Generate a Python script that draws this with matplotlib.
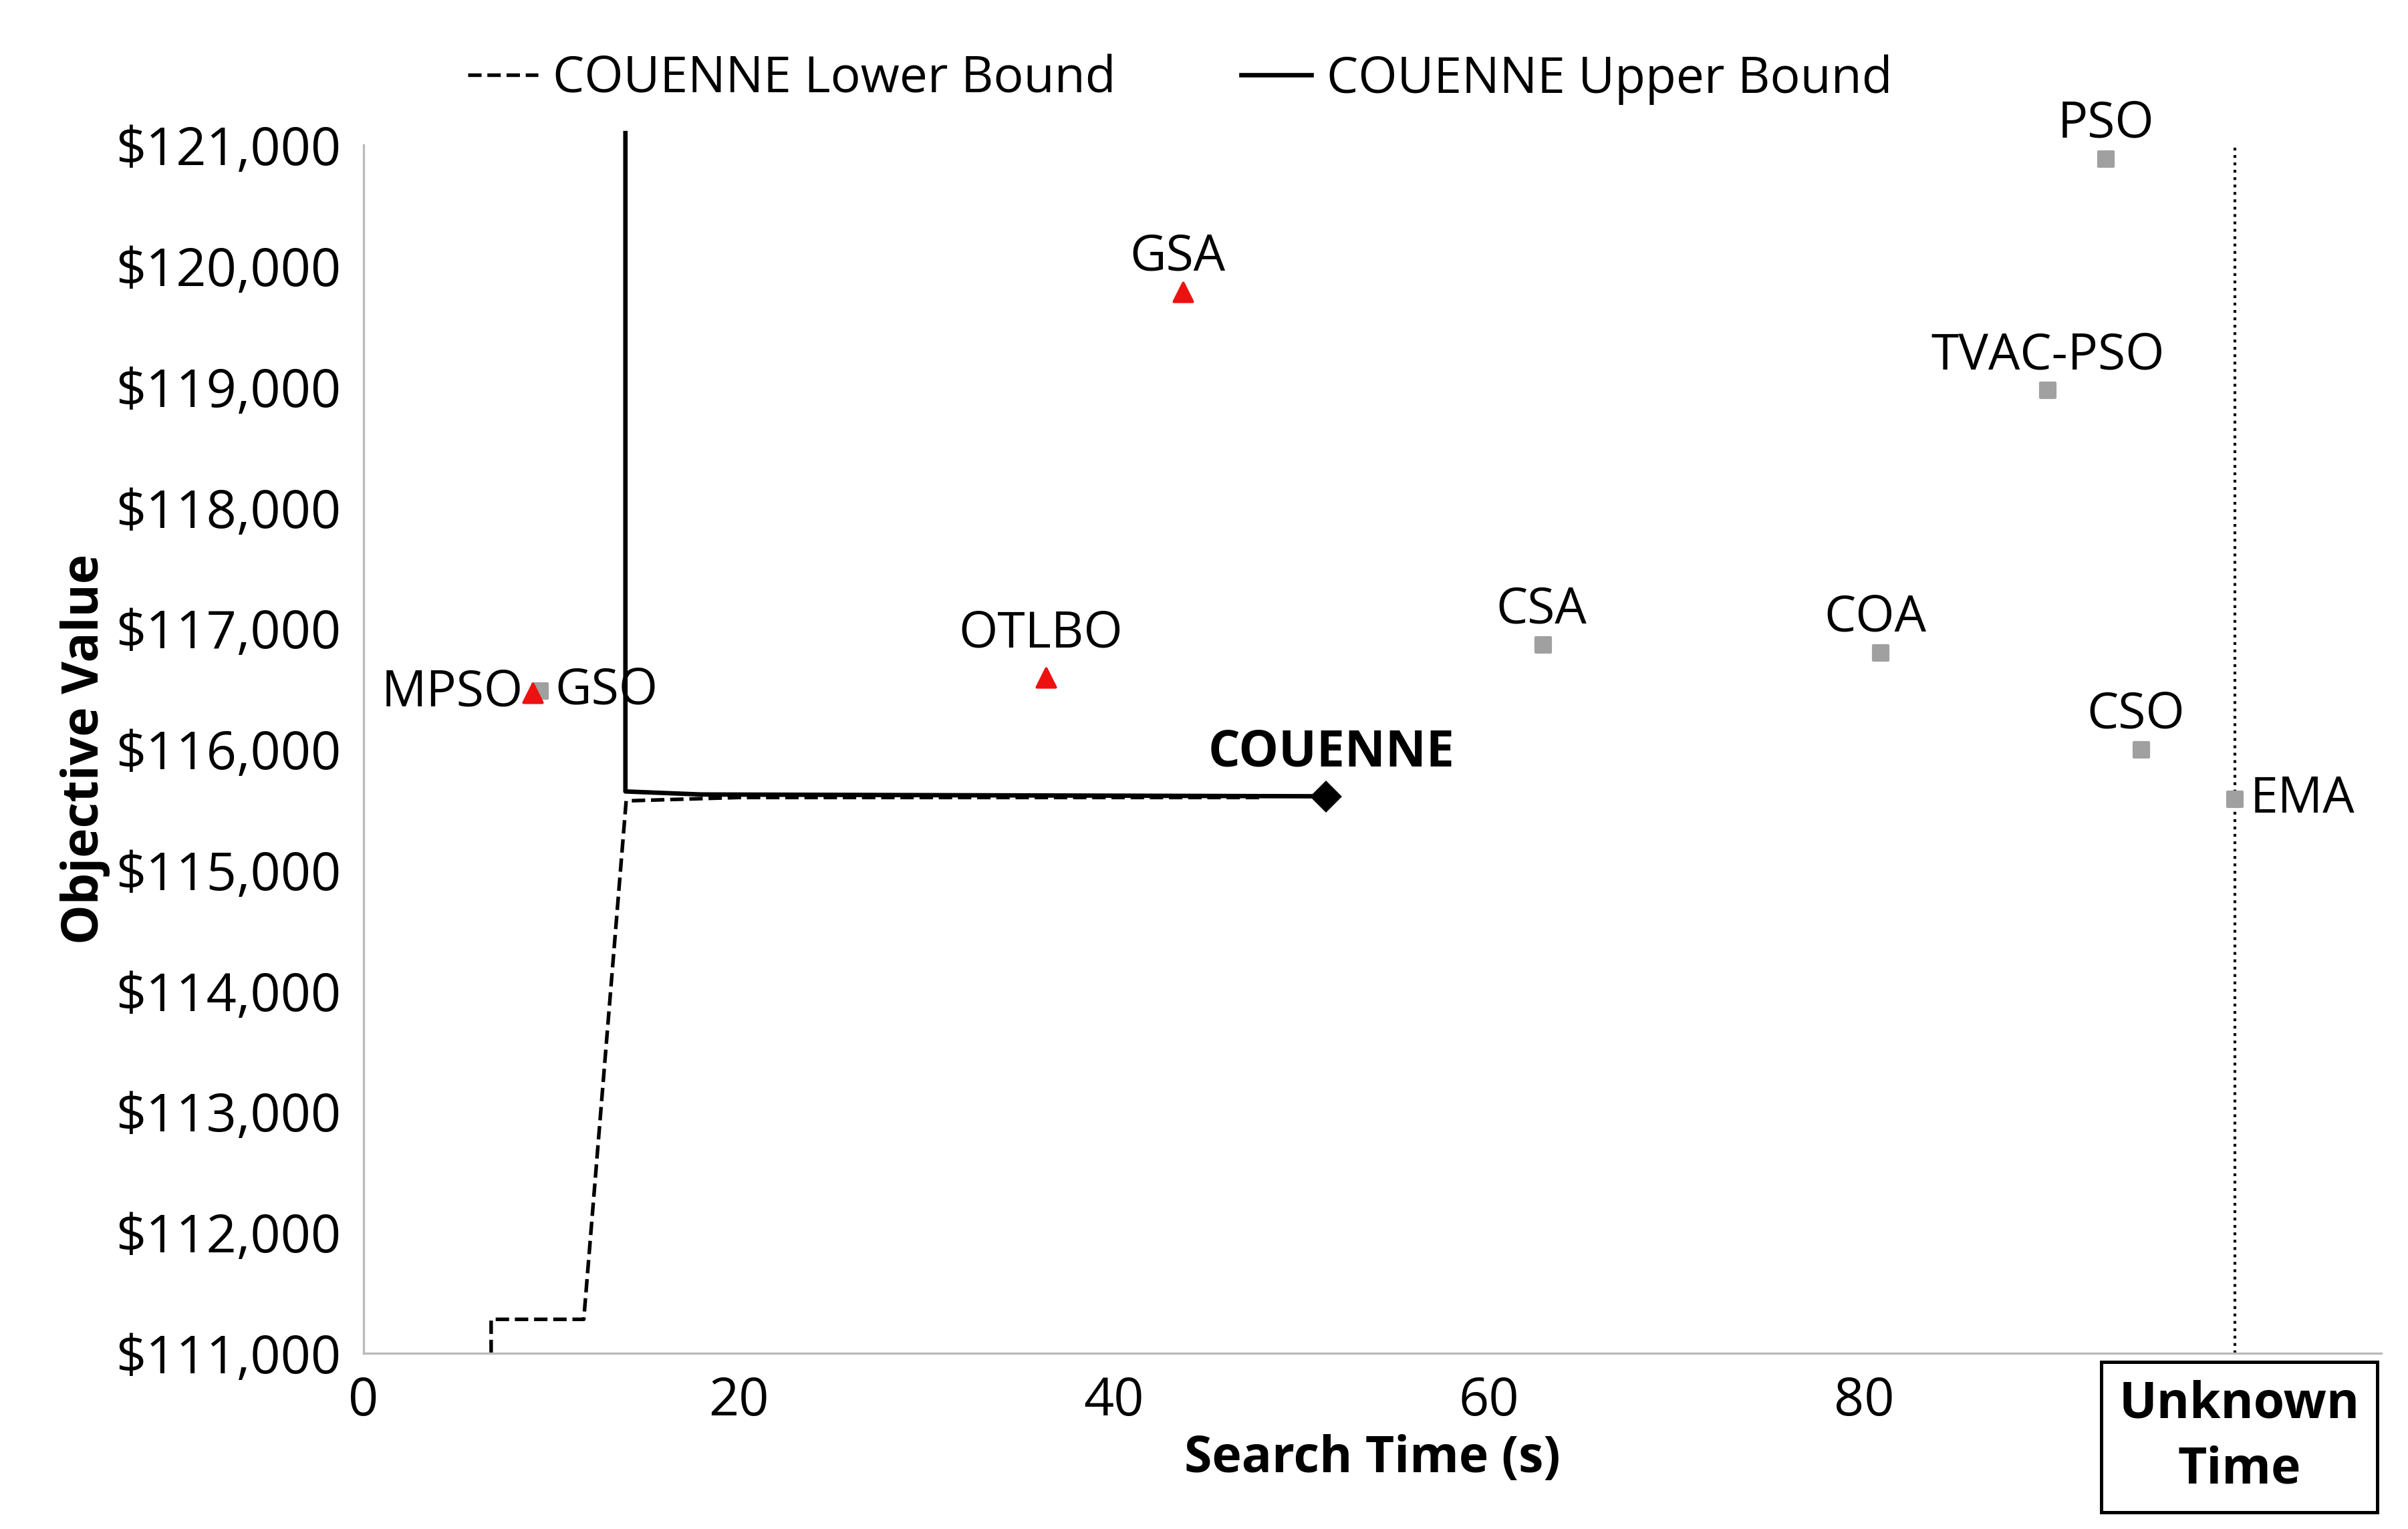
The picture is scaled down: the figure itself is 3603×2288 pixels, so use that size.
import matplotlib.pyplot as plt
from matplotlib.ticker import FuncFormatter

plt.rcParams['font.family'] = ['Open Sans', 'DejaVu Sans']

# scatter points (time s, objective $)
grey_names = ['GSO', 'CSA', 'COA', 'PSO', 'TVAC-PSO', 'CSO', 'EMA']
grey_x = [9.4, 62.9, 80.9, 92.9, 89.8, 94.8, 99.8]
grey_y = [116480, 116862, 116798, 120885, 118969, 115994, 115585]

red_names = ['MPSO', 'OTLBO', 'GSA']
red_x = [9.0, 36.4, 43.7]
red_y = [116466, 116594, 119787]

# COUENNE bounds
ub_x = [13.96, 13.96, 18.0, 51.3]
ub_y = [121100, 115650, 115625, 115610]
lb_x = [6.8, 6.8, 11.74, 14.0, 20.0, 48.0]
lb_y = [111000, 111280, 111280, 115572, 115600, 115600]
couenne_x, couenne_y = 51.3, 115610

fig = plt.figure(figsize=(12.01, 7.627), dpi=300)
ax = fig.add_axes([0.151, 0.115, 0.838, 0.79])

ax.plot(lb_x, lb_y, 'k--', lw=1.3, label='COUENNE Lower Bound', clip_on=False)
ax.plot(ub_x, ub_y, 'k-', lw=1.6, label='COUENNE Upper Bound', clip_on=False)
ax.plot(couenne_x, couenne_y, 'kD', ms=7, clip_on=False)
ax.scatter(grey_x, grey_y, marker='s', s=30, color='#a0a0a0', zorder=3, clip_on=False)
ax.scatter(red_x, red_y, marker='^', s=45, color='#ee1111', zorder=3, clip_on=False)
ax.axvline(99.8, color='k', ls=':', lw=1)

fs = 18
offsets = {
    'GSO': (0.8, 0, 'left', 'center'),
    'MPSO': (-0.5, 0, 'right', 'center'),
    'OTLBO': (-0.3, 150, 'center', 'bottom'),
    'GSA': (-0.3, 80, 'center', 'bottom'),
    'CSA': (-0.1, 80, 'center', 'bottom'),
    'COA': (-0.3, 80, 'center', 'bottom'),
    'PSO': (0, 80, 'center', 'bottom'),
    'TVAC-PSO': (0, 80, 'center', 'bottom'),
    'CSO': (-0.3, 80, 'center', 'bottom'),
    'EMA': (0.8, 0, 'left', 'center'),
}
for n, x, y in zip(grey_names + red_names, grey_x + red_x, grey_y + red_y):
    dx, dy, ha, va = offsets[n]
    ax.text(x + dx, y + dy, n, fontsize=fs, ha=ha, va=va)
ax.text(couenne_x + 0.3, couenne_y + 150, 'COUENNE', fontsize=fs, fontweight='bold',
        ha='center', va='bottom')

ax.set_xlim(0, 107.6)
ax.set_ylim(111000, 121000)
ax.set_xticks([0, 20, 40, 60, 80])
ax.set_yticks(range(111000, 121001, 1000))
ax.yaxis.set_major_formatter(FuncFormatter(lambda v, p: '${:,.0f}'.format(v)))
ax.tick_params(labelsize=19, length=0, pad=8)
ax.spines['top'].set_visible(False)
ax.spines['right'].set_visible(False)
ax.spines['left'].set_color('#bbbbbb')
ax.spines['bottom'].set_color('#bbbbbb')
ax.set_xlabel('Search Time (s)', fontsize=fs, fontweight='bold', labelpad=2)
ax.set_ylabel('Objective Value', fontsize=fs, fontweight='bold', labelpad=2)

fig.text(0.93, 0.06, 'Unknown\nTime', fontsize=fs, fontweight='bold', ha='center',
         va='center', linespacing=1.4,
         bbox=dict(boxstyle='square,pad=0.35', fc='white', ec='black', lw=1.2))

fig.legend(loc='center', bbox_to_anchor=(0.49, 0.948), ncol=2, frameon=False,
           fontsize=fs, handlelength=1.4, handletextpad=0.3, columnspacing=2.5)

fig.savefig('out.png', dpi=300)
